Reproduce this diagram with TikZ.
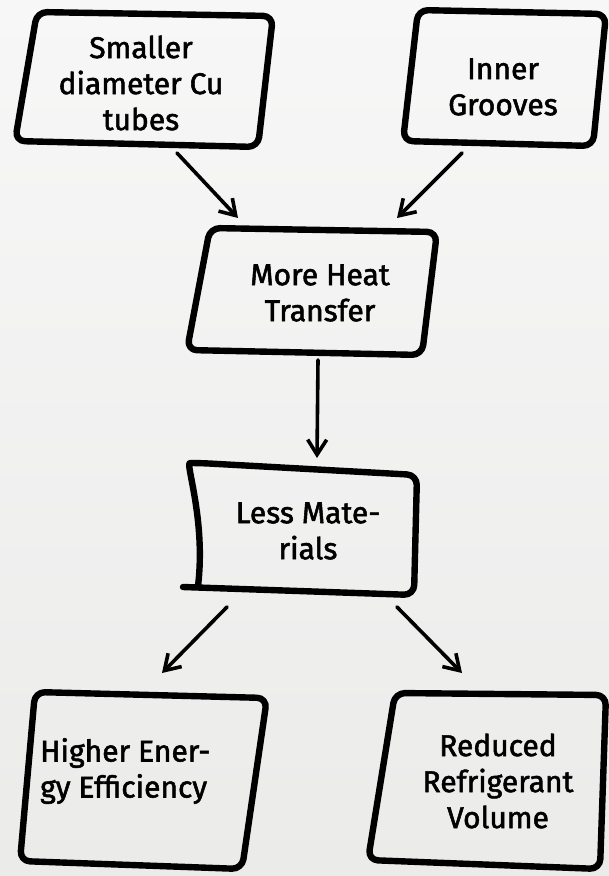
\documentclass[tikz,border=0pt]{standalone}
\usepackage{fontspec}
\setmainfont{Fira Sans}
\newfontfamily\handfont[FakeBold=1.8]{Fira Sans}
\usetikzlibrary{arrows.meta}
\definecolor{bgtop}{HTML}{F7F7F7}
\definecolor{bgbot}{HTML}{EBEBEA}
\begin{document}
\begin{tikzpicture}[x=1pt,y=-1pt,
  boxline/.style={line width=6.4pt, line join=round, line cap=round, rounded corners=10pt},
  conn/.style={line width=3.6pt, line cap=round, -{Straight Barb[length=15pt,width=19pt]}},
  lbl/.style={align=center, inner sep=0pt, font=\handfont\fontsize{30}{36}\selectfont}]
\useasboundingbox (0,0) rectangle (609,876);
\shade[top color=bgtop, bottom color=bgbot] (0,0) rectangle (609,876);

% box outlines
\draw[boxline] (37,12) -- (273,16) -- (258,147) -- (15,141) -- cycle;
\draw[boxline] (418,10) -- (606,14) -- (593,146) -- (403,141) -- cycle;
\draw[boxline] (210,228) -- (437,232) -- (422,355) -- (187,350) -- cycle;
\draw[boxline] (183,587) -- (414,595) -- (417,475) -- (200,463) .. controls (185,463) and (206,520) .. (198,586);
\draw[boxline] (35,692) -- (267,698) -- (242,869) -- (20,861) -- cycle;
\draw[boxline] (395,693) -- (606,695) -- (600,869) -- (368,860) -- cycle;

% labels
\node[lbl] (t1) at (141,83) {Smaller\\diameter Cu\\tubes};
\node[lbl] (t2) at (503,87) {Inner\\Grooves};
\node[lbl] (t3) at (320,293) {More Heat\\Transfer};
\node[lbl] (t4) at (308,531) {Less Mate-\\rials};
\node[lbl, align=left, anchor=west] (t5) at (40,771) {Higher Ener-\\gy Efficiency};
\node[lbl] (t6) at (498,781) {Reduced\\Refrigerant\\Volume};

% connector ends
\coordinate (a1s) at (177,153); \coordinate (a1e) at (238,218);
\coordinate (a2s) at (462,153); \coordinate (a2e) at (397,218);
\coordinate (a3s) at (318,360); \coordinate (a3e) at (317,458);
\coordinate (a4s) at (227,607); \coordinate (a4e) at (162,673);
\coordinate (a5s) at (397,607); \coordinate (a5e) at (462,673);

\draw[conn] (a1s) -- (a1e);
\draw[conn] (a2s) -- (a2e);
\draw[conn] (a3s) -- (a3e);
\draw[conn] (a4s) -- (a4e);
\draw[conn] (a5s) -- (a5e);
\end{tikzpicture}
\end{document}
